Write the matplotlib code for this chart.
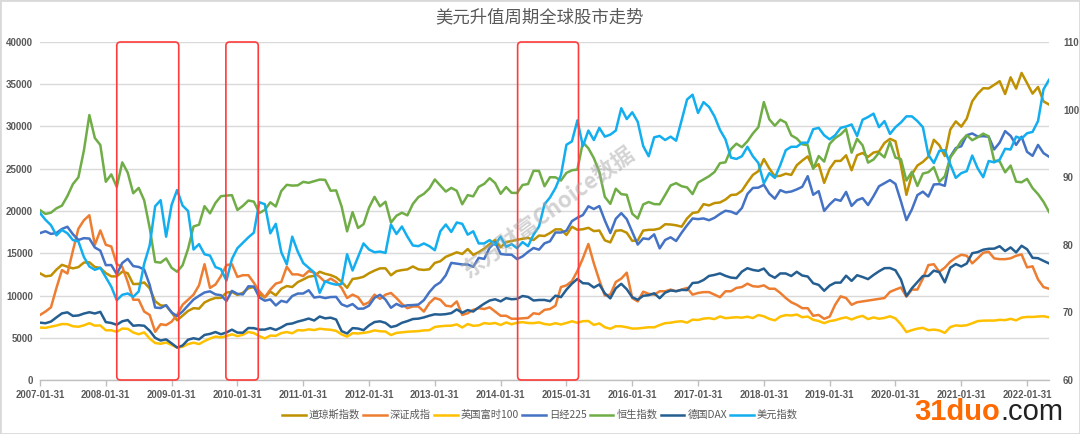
import numpy as np
import matplotlib
matplotlib.use('Agg')
import matplotlib.pyplot as plt
from matplotlib.patches import FancyBboxPatch, Rectangle

plt.rcParams['font.family'] = ['Noto Sans CJK SC', 'DejaVu Sans']

title = "美元升值周期全球股市走势"
series_names = ["道琼斯指数", "深证成指", "英国富时100", "日经225", "恒生指数", "德国DAX", "美元指数"]
tick_labels = [f"{y}-01-31" for y in range(2007, 2023)]
left_ticks = [0, 5000, 10000, 15000, 20000, 25000, 30000, 35000, 40000]
right_ticks = [60, 70, 80, 90, 100, 110]
# shaded periods (month index from 2007-01)
periods = [(14.0, 25.3), (33.9, 39.8), (87.1, 98.2)]

dow = [
12622,12269,12354,13063,13628,13409,13212,13358,13896,13930,13372,13265,
12650,12266,12263,12820,12638,11350,11378,11544,10851,9325,8829,8776,
8001,7063,7609,8168,8500,8447,9172,9496,9712,9713,10345,10428,
10067,10325,10857,11009,10137,9774,10466,10015,10788,11118,11006,11578,
11892,12226,12320,12811,12570,12414,12143,11614,10913,11955,12046,12218,
12633,12952,13212,13214,12393,12880,13009,13091,13437,13096,13026,13104,
13861,14054,14579,14840,15116,14910,15500,14810,15130,15546,16086,16577,
15699,16322,16458,16581,16717,16827,16563,17098,17043,17391,17828,17823,
17165,18133,17776,17841,18011,17620,17690,16528,16285,17664,17720,17425,
16466,16517,17685,17774,17787,17930,18432,18401,18308,18142,19124,19763,
19864,20812,20663,20941,21009,21350,21891,21948,22405,23377,24272,24719,
26149,25029,24103,24163,24416,24271,25415,25965,26458,25116,25538,23327,
24999,25916,25929,26593,24815,26600,26864,26403,26917,27046,28051,28538,
28256,25409,21917,24346,25383,25813,26428,28430,27782,26502,29639,30606,
29983,30932,32982,33875,34529,34503,34935,35361,33844,35820,34484,36338,
35132,33893,34678,32977,32600]

szse = [
7700,8100,8600,10900,13000,12600,15300,17900,18900,19500,16000,17700,
16000,15800,13700,13400,11600,9500,9500,8100,7700,5700,6600,6500,
6900,7700,8900,9500,10100,11200,13700,10900,11300,12300,13600,13700,
12200,12400,12400,11500,10500,9800,10700,11400,11600,13400,12500,12500,
12300,12900,12700,12200,11600,12000,11600,10900,9700,10100,9800,8900,
9200,10100,9600,10100,10300,9700,9000,8500,8700,8700,8100,9100,
9700,9500,8800,8700,9300,7700,7900,8300,8500,8400,8600,8100,
7600,7600,7250,7250,7300,7350,7900,7800,8300,8400,8800,11000,
11200,11700,12900,14400,16100,13800,11800,10000,10100,11600,12000,12700,
9700,9300,10450,10200,10100,10500,10500,10700,10500,10700,10900,10100,
10300,10400,10400,10100,9800,10500,10500,10900,11000,11400,11100,11040,
11200,10800,10800,10300,9700,9200,8900,8500,8500,7600,7700,7240,
7500,8900,9900,9700,8900,9200,9300,9400,9500,9600,9700,10430,
10700,10950,9860,10700,10700,12000,13600,13700,12800,13300,14000,14470,
14820,14700,13800,14400,15060,15180,14400,14300,14300,14400,14700,14860,
13330,13450,11900,11000,10800]

ftse = [
6203,6172,6308,6449,6621,6608,6360,6303,6467,6722,6432,6457,
5880,5884,5702,6087,6054,5626,5412,5636,4902,4377,4288,4434,
4150,3830,3926,4244,4418,4249,4608,4909,5134,5045,5191,5413,
5189,5355,5680,5553,5188,4917,5258,5225,5549,5675,5528,5900,
5863,5994,5909,6070,5990,5946,5815,5395,5128,5544,5505,5572,
5682,5872,5768,5738,5321,5571,5635,5711,5742,5783,5867,5898,
6277,6361,6412,6430,6583,6215,6621,6413,6462,6731,6651,6749,
6510,6810,6598,6780,6844,6744,6730,6820,6623,6546,6723,6566,
6749,6947,6773,6961,6984,6521,6696,6248,6062,6361,6356,6242,
6084,6097,6175,6242,6231,6504,6724,6782,6899,6954,6784,7143,
7099,7263,7323,7204,7520,7313,7372,7431,7373,7493,7327,7688,
7534,7232,7057,7509,7678,7637,7749,7432,7510,7128,6980,6728,
6969,7075,7279,7418,7162,7426,7587,7207,7408,7248,7347,7542,
7286,6581,5672,5901,6077,6170,5898,5964,5866,5577,6266,6461,
6407,6483,6714,6970,7023,7037,7032,7120,7086,7238,7059,7385,
7464,7458,7516,7545,7420]

nikkei = [
17383,17604,17288,17400,17876,18138,17249,16569,16786,16737,15681,15308,
13592,13603,12526,13850,14339,13481,13377,13073,11260,8577,8512,8860,
7994,7568,8110,8828,9523,9958,10357,10493,10133,10035,9346,10546,
10198,10126,11090,11057,9769,9383,9537,8824,9369,9202,9937,10229,
10238,10624,9755,9850,9694,9816,9833,8955,8700,8988,8435,8455,
8803,9723,10084,9521,8543,9007,8695,8840,8870,8928,9446,10395,
11139,11559,12398,13861,13775,13677,13668,13389,14456,14328,15662,16291,
14915,14841,14828,14304,14632,15162,15621,15425,16174,16414,17460,17451,
17674,18798,19207,19520,20563,20236,20585,18890,17388,19083,19747,19034,
17518,16027,16759,16666,17235,15576,16569,16887,16450,17425,18308,19114,
19041,19119,18909,19197,19651,20033,19925,19646,20356,22012,22725,22765,
23098,22068,21454,22468,22202,22305,22554,22865,24120,21920,22351,20015,
20773,21385,21206,22259,20601,21276,21522,20704,21756,22927,23294,23657,
23205,21143,18917,20194,21878,22288,21710,23140,23185,22977,26434,27444,
27663,28966,29179,28813,28860,28792,27284,28090,29453,28893,27822,28792,
27002,26527,27821,26848,26427]

hsi = [
20107,19652,19801,20319,20635,21773,23185,23984,27143,31352,28643,27813,
23456,24332,22849,25755,24533,22102,22731,21262,18016,13969,13888,14387,
13278,12812,13576,15521,18171,18379,20573,19724,20955,21753,21822,21873,
20122,20609,21239,21108,19765,20129,21030,20536,22359,23096,23008,23035,
23447,23338,23528,23720,23684,22398,22440,20535,17592,19864,17989,18434,
20390,21680,20556,21094,18630,19441,19796,19482,20840,21642,22030,22657,
23730,23020,22300,22737,22392,20803,21883,21731,22859,23206,23881,23306,
22035,22837,22151,22134,23082,23191,24757,24742,22933,23998,23987,23605,
24507,24823,24901,28133,27424,26250,24636,21671,20846,22640,21996,21914,
19683,19112,20777,21067,20815,20794,21891,23023,23297,22935,22790,22001,
23361,23741,24112,24615,25661,25765,27323,27970,27554,28246,29177,29919,
32887,30845,30093,30808,30469,28955,28583,27889,27789,24980,26507,25846,
27942,28633,29051,29699,26901,28543,27778,25725,26092,26907,26346,28190,
26313,26130,23603,24644,22961,24427,24595,25177,23459,24107,26341,27231,
28284,28980,28378,28725,29152,28828,25961,25879,24576,25377,23475,23398,
23802,22713,21997,21089,19898]

dax = [
6789,6716,6917,7409,7883,8007,7584,7638,7862,8020,7871,8067,
6852,6748,6535,6949,7097,6418,6480,6422,5831,4988,4669,4810,
4338,3844,4085,4770,4941,4809,5332,5458,5675,5415,5625,5957,
5608,5598,6154,6136,5964,5966,6148,5925,6229,6601,6688,6914,
7077,7272,7041,7514,7294,7376,7159,5785,5502,6141,6089,5898,
6458,6856,6947,6761,6264,6416,6772,6971,7216,7260,7406,7612,
7776,7742,7795,7914,8349,7959,8276,8104,8594,9033,9406,9552,
9306,9692,9556,9603,9943,9833,9407,9470,9474,9327,9981,9806,
10694,11402,11966,11454,11414,10945,11309,10259,9660,10850,11382,10743,
9798,9495,9966,10039,10263,9680,10337,10593,10511,10665,10640,11481,
11535,11834,12313,12438,12615,12325,12118,12056,12829,13230,13024,12918,
13189,12436,12097,12612,12605,12306,12806,12364,12247,11448,11257,10559,
11173,11516,11526,12345,11727,12399,12189,11939,12428,12867,13236,13249,
12982,11890,9936,10862,11587,12311,12313,12945,12761,11556,13291,13719,
13433,13786,15008,15136,15421,15531,15544,15835,15261,15689,15100,15885,
15471,14461,14415,14098,13800]

dxy = [
84.7,83.7,82.9,81.4,82.2,81.7,80.7,80.5,78.2,76.8,76.3,76.6,
75.2,73.8,71.8,72.6,72.8,72.3,73.1,77.2,79.9,85.7,86.6,81.2,
85.9,88.1,85.8,85.0,79.3,80.1,78.6,78.4,76.7,76.4,74.7,77.9,
79.5,80.3,81.1,81.8,86.3,86.0,81.7,83.1,78.9,77.1,81.2,79.0,
77.3,76.6,75.9,72.9,74.6,74.3,74.1,74.2,78.6,76.2,78.2,80.2,
79.3,78.9,79.0,78.8,83.0,81.6,82.7,81.2,79.9,79.8,80.2,79.8,
79.2,82.0,83.0,81.9,83.3,83.1,81.5,82.0,80.2,80.2,80.7,80.0,
81.2,79.7,80.1,79.5,80.4,79.8,81.5,82.7,86.0,87.0,88.4,90.3,
94.8,95.3,98.4,94.6,96.9,95.5,97.3,96.0,96.3,96.9,100.2,98.6,
99.6,98.2,94.6,93.1,95.9,96.1,95.5,96.0,95.4,98.4,101.5,102.2,
99.5,101.1,100.4,99.0,97.0,95.6,92.9,92.7,93.1,94.5,93.1,92.1,
89.1,90.6,89.9,91.8,94.0,94.5,94.5,95.1,95.1,97.1,97.3,96.2,
95.6,96.2,97.3,97.5,97.8,96.1,98.5,98.9,99.4,97.4,98.3,96.4,
97.4,98.1,99.0,99.0,98.3,97.4,93.3,92.1,93.9,94.0,91.9,89.9,
90.6,90.9,93.2,91.3,90.0,92.4,92.2,92.6,94.2,94.1,96.0,95.7,
96.5,96.7,98.3,103.0,104.4]

colors = ["#BF9000", "#ED7D31", "#FFC000", "#4472C4", "#70AD47", "#255E91", "#12AEEF"]
TXT = "#595959"

W, H = 1080, 434
fig = plt.figure(figsize=(W / 100, H / 100), dpi=100)
Lp, Rp, Tp, Bp = 40, 1049, 42, 380
ax = fig.add_axes([Lp / W, 1 - Bp / H, (Rp - Lp) / W, (Bp - Tp) / H])
ax2 = ax.twinx()

n = len(dow)
x = np.arange(n)
left_series = [dow, szse, ftse, nikkei, hsi, dax]
handles = []
for s, c, name in zip(left_series, colors[:6], series_names[:6]):
    ln, = ax.plot(x, s, color=c, lw=1.8, solid_joinstyle='round', label=name)
    handles.append(ln)
ln, = ax2.plot(x, dxy, color=colors[6], lw=1.8, solid_joinstyle='round', label=series_names[6])
handles.append(ln)

ax.set_xlim(0, n - 1)
ax.set_ylim(0, 40000)
ax2.set_ylim(60, 110)

ax.set_yticks(left_ticks)
ax.set_yticklabels([str(v) for v in left_ticks], fontfamily='Liberation Sans',
                   fontweight='bold', fontsize=7, color=TXT)
ax2.set_yticks(right_ticks)
ax2.set_yticklabels([str(v) for v in right_ticks], fontfamily='Liberation Sans',
                    fontweight='bold', fontsize=7, color=TXT)
xt = list(range(0, n, 12))
ax.set_xticks(xt)
ax.set_xticklabels(tick_labels[:len(xt)], fontfamily='Liberation Sans',
                   fontweight='bold', fontsize=6.9, color=TXT)

ax.tick_params(axis='y', length=0, pad=5)
ax2.tick_params(axis='y', length=0, pad=10)
ax.tick_params(axis='x', length=4, color='#bfbfbf', width=1, pad=3)

ax.yaxis.grid(True, color='#d9d9d9', lw=1.0)
ax.set_axisbelow(True)
for sp in ['top', 'left', 'right']:
    ax.spines[sp].set_visible(False)
for sp in ax2.spines.values():
    sp.set_visible(False)
ax.spines['bottom'].set_color('#bfbfbf')
ax.spines['bottom'].set_linewidth(1)

# red rectangles
tr = ax2.get_xaxis_transform()
for a, b in periods:
    p = FancyBboxPatch((a, 0), b - a, 1, boxstyle="round,pad=0,rounding_size=0.7",
                       mutation_aspect=0.016, transform=tr, fill=False,
                       edgecolor='#FF3B3B', lw=1.2, zorder=10, clip_on=False)
    ax2.add_patch(p)

# watermark
fig.text(548 / W, 1 - 212 / H, "东方财富Choice数据", rotation=36, ha='center', va='center',
         fontsize=16, fontweight='bold', style='italic', color='#a8a8a8', alpha=0.5, zorder=20)

# title
fig.text(0.5, 1 - 17 / H, title, ha='center', va='center', fontsize=12.5, color=TXT)

# legend
fig.legend(handles, series_names, loc='center', bbox_to_anchor=(0.5, 1 - 415 / H), ncol=7,
           frameon=False, fontsize=7.4, handlelength=2.3, handletextpad=0.3,
           columnspacing=0.3, labelcolor=TXT)

# site logo
fig.text(1000 / W, 1 - 412 / H, "31duo", ha='right', va='center', fontsize=21,
         fontweight='bold', color='#FF6A00', fontfamily='Liberation Sans')
fig.text(1000 / W, 1 - 412 / H, ".com", ha='left', va='center', fontsize=21,
         color='#222222', fontfamily='Liberation Sans')

# border
fig.add_artist(Rectangle((0, 0), 1, 1, transform=fig.transFigure, fill=False,
                         edgecolor='#d9d9d9', lw=2))

fig.savefig("out.png", dpi=100)
